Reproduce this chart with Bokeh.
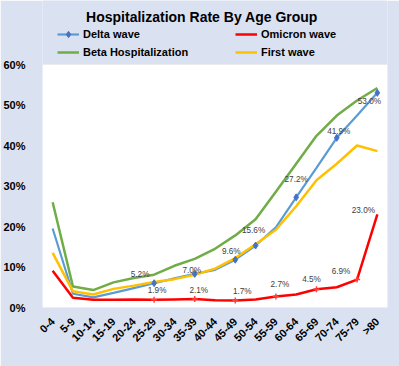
import math
from bokeh.plotting import figure
from bokeh.models import (Range1d, FixedTicker, PrintfTickFormatter, Legend, LegendItem,
                          Label, ColumnDataSource)
from bokeh.core.properties import value
from bokeh.embed import file_html
from bokeh.resources import INLINE

# ---------------- data ----------------
categories = ["0-4", "5-9", "10-14", "15-19", "20-24", "25-29", "30-34", "35-39", "40-44",
              "45-49", "50-54", "55-59", "60-64", "65-69", "70-74", "75-79", ">80"]
delta = [19.5, 3.4, 2.5, 3.6, 4.8, 6.0, 7.2, 8.3, 9.3, 11.8, 15.3, 19.8, 27.2, 34.5, 41.9, 47.4, 53.0]
omicron = [9.1, 2.4, 1.9, 1.9, 2.0, 1.9, 2.0, 2.1, 1.8, 1.7, 2.0, 2.7, 3.2, 4.5, 5.0, 6.9, 23.0]
beta = [26.0, 5.2, 4.3, 6.2, 7.3, 8.1, 10.3, 12.0, 14.5, 17.8, 21.8, 28.6, 35.5, 42.4, 47.4, 51.1, 54.2]
first_wave = [13.5, 4.0, 3.2, 4.6, 5.4, 6.3, 7.0, 8.1, 9.6, 12.2, 15.6, 19.2, 25.0, 31.4, 35.5, 40.0, 38.6]

delta_label_idx = [5, 7, 9, 10, 12, 14, 16]
delta_label_text = ["5.2%", "7.0%", "9.6%", "15.6%", "27.2%", "41.9%", "53.0%"]
omicron_label_idx = [5, 7, 9, 11, 13, 15, 16]
omicron_label_text = ["1.9%", "2.1%", "1.7%", "2.7%", "4.5%", "6.9%", "23.0%"]
y_ticks = [0, 10, 20, 30, 40, 50, 60]
y_top = 60

# label pixel offsets (style)
delta_dx = [-14, -3, -4, -2, 0, 2, -8]
delta_dy = [-9, -3, -8, -15, -18, -6, 9]
omicron_dx = [3, 4, 7, 4, -5, -16, -14]
omicron_dy = [-9, -8, -9, -12, -10, -8, -4]

xs = list(range(len(categories)))

BG = "#DAE2F2"
C_DELTA = "#5B9BD5"
C_OMI = "#FF0000"
C_BETA = "#70AD47"
C_FIRST = "#FFC000"
FONT = "Liberation Sans"

W, H = 399, 366
ML, MR, MT, MB = 40, 12, 0, 59
frame_h = H - MT - MB
px_per_unit = (frame_h - 64) / y_top  # plot area top sits 64px below the figure top

p = figure(width=W, height=H, output_backend="svg", toolbar_location=None,
           x_range=Range1d(-0.5, len(categories) - 0.5),
           y_range=Range1d(0, frame_h / px_per_unit),
           min_border_left=ML, min_border_right=MR, min_border_top=MT, min_border_bottom=MB)
p.background_fill_color = BG
p.border_fill_color = BG
p.outline_line_color = None

# white plotting area
p.quad(left=[-0.5], right=[len(categories) - 0.5], bottom=[0], top=[y_top],
       fill_color="white", line_color=None)

r_beta = p.line(xs, beta, line_color=C_BETA, line_width=2.5)
r_delta = p.line(xs, delta, line_color=C_DELTA, line_width=2.2)
r_first = p.line(xs, first_wave, line_color=C_FIRST, line_width=2.5)
r_omi = p.line(xs, omicron, line_color=C_OMI, line_width=2.5)

r_dm = p.scatter(delta_label_idx, [delta[i] for i in delta_label_idx], marker="diamond", size=7,
                 fill_color="#4472C4", line_color="#4472C4")
p.scatter(omicron_label_idx[:-1], [omicron[i] for i in omicron_label_idx[:-1]], marker="cross",
          size=6, line_color="#FF4040", line_width=1.5)

src_d = ColumnDataSource(dict(x=delta_label_idx, y=[delta[i] for i in delta_label_idx],
                              t=delta_label_text, dx=delta_dx, dy=delta_dy))
src_o = ColumnDataSource(dict(x=omicron_label_idx, y=[omicron[i] for i in omicron_label_idx],
                              t=omicron_label_text, dx=omicron_dx, dy=omicron_dy))
for src in (src_d, src_o):
    p.text(x="x", y="y", text="t", x_offset="dx", y_offset="dy", source=src,
           text_font=value(FONT), text_font_size="8.2px", text_color="#404040",
           text_align="center", text_baseline="middle")

# axes
p.xaxis.ticker = FixedTicker(ticks=xs)
p.xaxis.major_label_overrides = {i: c for i, c in enumerate(categories)}
p.xaxis.major_label_orientation = math.pi / 4
p.yaxis.ticker = FixedTicker(ticks=y_ticks)
p.yaxis.formatter = PrintfTickFormatter(format="%d%%")
for ax in (p.xaxis, p.yaxis):
    ax.axis_line_color = None
    ax.major_tick_line_color = None
    ax.minor_tick_line_color = None
    ax.major_label_text_font = FONT
    ax.major_label_text_font_style = "bold"
    ax.major_label_text_font_size = "11px"
    ax.major_label_text_color = "black"
p.yaxis.major_label_standoff = 11
p.xaxis.major_label_standoff = 6
p.xgrid.visible = False
p.ygrid.ticker = FixedTicker(ticks=y_ticks)
p.ygrid.grid_line_color = "#D9D9D9"

# legends (two columns)
def mk_legend(items, loc):
    lg = Legend(items=items, location=loc, padding=0, spacing=2, margin=0,
                glyph_width=22, glyph_height=16, label_height=16, label_standoff=4,
                background_fill_alpha=0, border_line_color=None,
                label_text_font=FONT, label_text_font_style="bold",
                label_text_font_size="11px", label_text_color="black")
    p.add_layout(lg)
    return lg

leg_bottom = frame_h - 60.3
mk_legend([LegendItem(label="Delta wave", renderers=[r_delta, r_dm]),
           LegendItem(label="Beta Hospitalization", renderers=[r_beta])], (15, leg_bottom))
mk_legend([LegendItem(label="Omicron wave", renderers=[r_omi]),
           LegendItem(label="First wave", renderers=[r_first])], (193, leg_bottom))

p.add_layout(Label(x=159.5, y=frame_h - 16.7, x_units="screen", y_units="screen",
                   text="Hospitalization Rate By Age Group", text_font=FONT,
                   text_font_style="bold", text_font_size="14px", text_color="black",
                   text_align="center", text_baseline="middle"))

open("out.html", "w").write(file_html(p, INLINE))
